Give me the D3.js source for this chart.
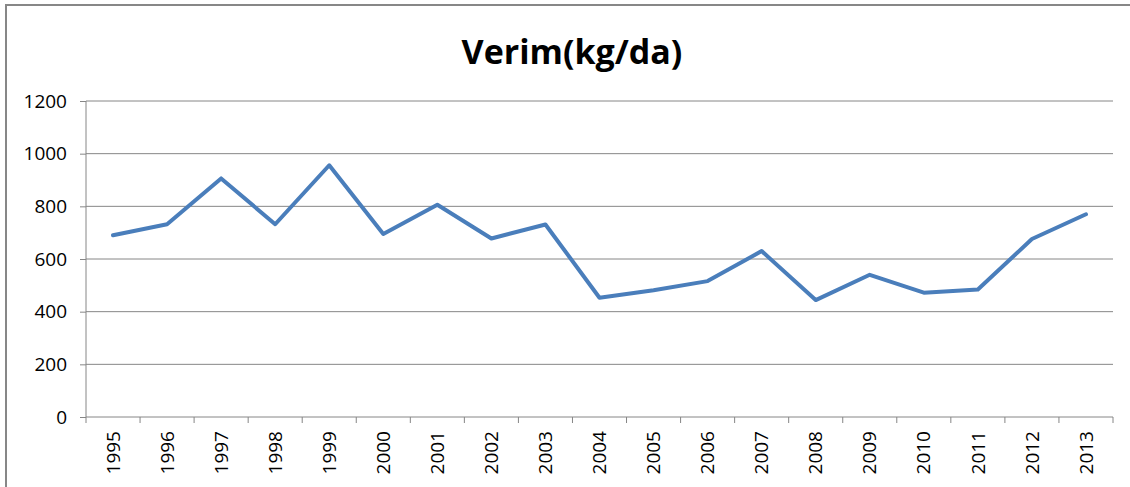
<!DOCTYPE html>
<html>
<head>
<meta charset="utf-8">
<script src="https://d3js.org/d3.v7.min.js"></script>
<style>
  body { margin: 0; background: #fff; }
  .axis text { font-family: "Open Sans", "Liberation Sans", sans-serif; font-size: 19px; fill: #000; }
  .grid line { stroke: #868686; stroke-width: 1; }
</style>
</head>
<body>
<svg id="chart" width="1130" height="487"></svg>
<script>
// yields per year
var years = ["1995","1996","1997","1998","1999","2000","2001","2002","2003","2004",
             "2005","2006","2007","2008","2009","2010","2011","2012","2013"];
var verim = [690, 732, 906, 732, 956, 695, 806, 678, 731, 453,
             481, 516, 630, 444, 540, 472, 484, 676, 770];
var yTicks = [0, 200, 400, 600, 800, 1000, 1200];

var svg = d3.select("#chart");
var plotL = 86, plotR = 1113, plotT = 101, plotB = 417;

// outer frame (only top and left edges show in the window)
svg.append("rect")
   .attr("x", 6).attr("y", 5)
   .attr("width", 1140).attr("height", 500)
   .attr("fill", "none")
   .attr("stroke", "#878787")
   .attr("stroke-width", 2);

svg.append("text")
   .attr("x", 572).attr("y", 64)
   .attr("text-anchor", "middle")
   .style("font-family", "'Open Sans', 'Liberation Sans', sans-serif")
   .style("font-weight", "bold")
   .style("font-size", "34px")
   .text("Verim(kg/da)");

var x = d3.scaleBand().domain(years).range([plotL, plotR]);
var y = d3.scaleLinear().domain([0, 1200]).range([plotB, plotT]);

// horizontal gridlines
svg.append("g")
   .attr("class", "grid")
   .selectAll("line")
   .data(yTicks.slice(1))
   .enter().append("line")
   .attr("x1", plotL).attr("x2", plotR)
   .attr("y1", function(d) { return y(d); })
   .attr("y2", function(d) { return y(d); });

var yAxis = d3.axisLeft(y).tickValues(yTicks).tickSize(6).tickPadding(13)
   .tickFormat(d3.format("d"));
var gy = svg.append("g")
   .attr("class", "axis")
   .attr("transform", "translate(" + plotL + ",0)")
   .call(yAxis);
gy.selectAll("line, path").attr("stroke", "#868686");
gy.select(".domain").attr("d", "M0," + plotT + "V" + plotB);

// x axis with ticks at the category boundaries
var gx = svg.append("g")
   .attr("class", "axis")
   .attr("transform", "translate(0," + plotB + ")");
gx.append("line")
   .attr("x1", plotL).attr("x2", plotR)
   .attr("stroke", "#868686");
gx.selectAll(".tk")
   .data(years.concat(["end"]))
   .enter().append("line")
   .attr("class", "tk")
   .attr("x1", function(d, i) { return plotL + i * x.step(); })
   .attr("x2", function(d, i) { return plotL + i * x.step(); })
   .attr("y1", 0).attr("y2", 6)
   .attr("stroke", "#868686");
gx.selectAll(".lbl")
   .data(years)
   .enter().append("text")
   .attr("class", "lbl")
   .attr("text-anchor", "end")
   .attr("dy", "0.35em")
   .attr("transform", function(d) {
       return "translate(" + (x(d) + x.bandwidth() / 2) + ",14) rotate(-90)";
   })
   .text(function(d) { return d; });

var line = d3.line()
   .x(function(d, i) { return x(years[i]) + x.bandwidth() / 2; })
   .y(function(d) { return y(d); });

svg.append("path")
   .datum(verim)
   .attr("fill", "none")
   .attr("stroke", "#4a7ebb")
   .attr("stroke-width", 4)
   .attr("stroke-linejoin", "round")
   .attr("stroke-linecap", "round")
   .attr("d", line);
</script>
</body>
</html>
